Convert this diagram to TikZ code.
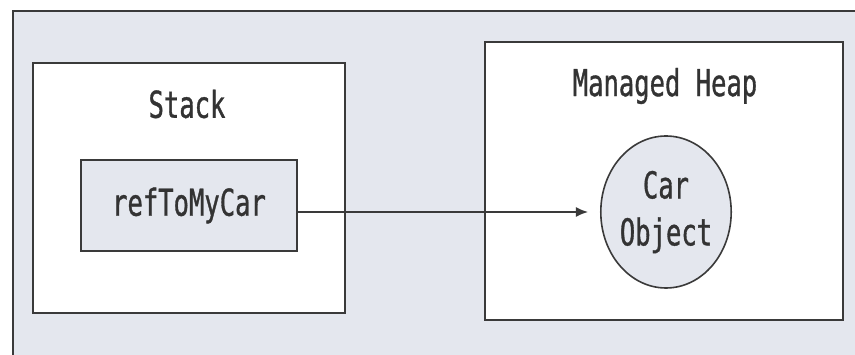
\documentclass[tikz,border=0pt]{standalone}
\usepackage{fontspec}
\newfontfamily\diagfont[FakeStretch=0.69,FakeBold=0.9]{DejaVu Sans Mono}
\usetikzlibrary{shapes.geometric,arrows.meta}
\definecolor{panel}{HTML}{E4E7EE}
\definecolor{edge}{HTML}{3A3A3A}
\definecolor{ink}{HTML}{333333}
\tikzset{
  region/.style={draw=edge,line width=2.2pt,fill=white},
  label/.style={font=\diagfont\fontsize{37}{40}\selectfont,text=ink},
  refbox/.style={draw=edge,line width=2.2pt,fill=panel,minimum width=216pt,minimum height=91pt,inner sep=0pt,font=\diagfont\fontsize{37}{40}\selectfont,text=ink},
  objnode/.style={ellipse,draw=edge,line width=1.6pt,fill=panel,minimum width=116pt,minimum height=152pt,inner sep=0pt,align=center,font=\diagfont\fontsize{37}{47}\selectfont,text=ink},
  link/.style={draw=edge,line width=1.6pt,-{Latex[length=12pt,width=10pt]},shorten >=12pt}
}
\begin{document}
\begin{tikzpicture}[x=1pt,y=-1pt]
  \useasboundingbox (0,0) rectangle (855,355);
  % outer panel
  \draw[draw=edge,line width=2pt,fill=panel] (13,11) rectangle (870,370);
  % stack region
  \draw[region] (33,63) rectangle (345,313);
  \node[label] (stacklbl) at (187,104) {Stack};
  \node[refbox] (ref) at (189,205.5) {refToMyCar};
  % heap region
  \draw[region] (485,42) rectangle (843,320);
  \node[label] (heaplbl) at (665,86) {Managed Heap};
  \node[objnode] (car) at (666,212) {Car\\Object};
  % reference arrow, level with the object
  \draw[link] (ref.east |- car.west) -- (car.west);
\end{tikzpicture}
\end{document}
